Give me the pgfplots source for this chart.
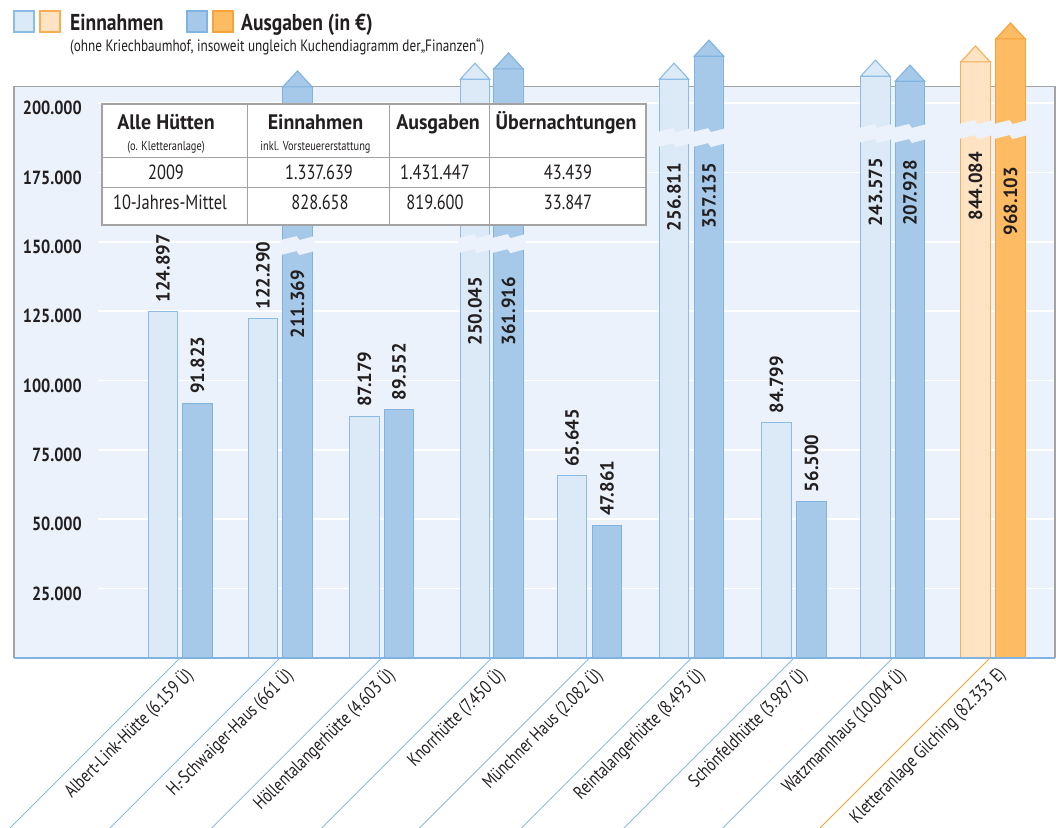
\documentclass[border=0pt]{standalone}
\usepackage{fontspec}
\setmainfont{PT Sans}[FakeStretch=0.8]
\newfontfamily\fA{PT Sans}[FakeStretch=0.98]
\newfontfamily\fB{PT Sans}[FakeStretch=0.95]
\newfontfamily\fC{PT Sans}[FakeStretch=0.85]
\usepackage{pgfplots}
\pgfplotsset{compat=1.18}
\usepackage{pgfplotstable}

\definecolor{bg}{HTML}{EBF2FB}
\definecolor{frame}{HTML}{A3A3A3}
\definecolor{einfill}{HTML}{DCE9F7}
\definecolor{einline}{HTML}{8CBCE5}
\definecolor{ausfill}{HTML}{A6C9EA}
\definecolor{ausline}{HTML}{80B3E0}
\definecolor{oeinfill}{HTML}{FFE3C2}
\definecolor{oeinline}{HTML}{F8AE55}
\definecolor{oausfill}{HTML}{FDBB63}
\definecolor{oausline}{HTML}{F5A33A}
\definecolor{txt}{HTML}{231F20}

% white-ish break band across a bar that is cut
\newcommand\brk[2]{\fill[bg] (axis cs:#1,#2) ++(-17pt,5pt) -- ++(16pt,4pt) -- ++(3pt,-4pt) -- ++(15pt,4pt) -- ++(0pt,-15pt) -- ++(-15pt,-4pt) -- ++(-3pt,4pt) -- ++(-16pt,-4pt) -- cycle;}

% bars: x = bar centre, h = drawn height (in 1000 EUR); cut bars end at the frame
\pgfplotstableread{
x h
163 124.897
263 122.290
364.5 87.179
475 208.6
572 65.645
674 208.6
776.5 84.799
875.5 209.7
}\einB
\pgfplotstableread{
x h
197.5 91.823
297.5 205.8
399 89.552
508.5 212.3
607 47.861
709 216.9
811.5 56.5
910 207.9
}\ausB
\pgfplotstableread{
x h
975.5 214.8
}\einO
\pgfplotstableread{
x h
1010.5 223.1
}\ausO
% labels above bars
\pgfplotstableread{
x y lab
163 124.897 124.897
197.5 91.823 91.823
263 122.290 122.290
364.5 87.179 87.179
399 89.552 89.552
572 65.645 65.645
607 47.861 47.861
776.5 84.799 84.799
811.5 56.5 56.500
}\labup
% labels inside the cut bars (y = upper end of text)
\pgfplotstableread{
x y lab
297.5 139.8 211.369
475 137.3 250.045
508.5 137.3 361.916
674 178.4 256.811
709 178.4 357.135
875.5 180.2 243.575
910 179.5 207.928
975.5 182.3 844.084
1010.5 176.9 968.103
}\labin

\newcommand\hb{\fontsize{21}{21}\selectfont\fB\bfseries}
\newcommand\hs{\fontsize{13}{13}\selectfont}
\newcommand\hr{\fontsize{20.5}{20.5}\selectfont}
\newcommand\vl{\fontsize{19}{19}\selectfont\fA\bfseries}

\begin{document}
\begin{tikzpicture}
\color{txt}
\begin{axis}[
  at={(14pt,169pt)}, anchor=south west,
  x=1pt, y=2.775pt,
  xmin=14, xmax=1055, ymin=0, ymax=205.8,
  clip=false,
  axis line style={draw=none},
  axis background/.style={fill=bg},
  major tick length=0pt,
  tick style={draw=none},
  ytick={25,50,75,100,125,150,175,200},
  yticklabels={25.000,50.000,75.000,100.000,125.000,150.000,175.000,200.000},
  yticklabel style={font=\fontsize{19}{19}\selectfont\fC\bfseries, text=txt, inner sep=0pt, xshift=68pt, yshift=-5pt, anchor=east},
  xtick={180,280,381.75,491.75,589.5,691.5,794,892.75,993},
  xticklabels={Albert-Link-Hütte (6.159 Ü),H.-Schwaiger-Haus (661 Ü),Höllentalangerhütte (4.603 Ü),Knorrhütte (7.450 Ü),Münchner Haus (2.082 Ü),Reintalangerhütte (8.493 Ü),Schönfeldhütte (3.987 Ü),Watzmannhaus (10.004 Ü),Kletteranlage Gilching (82.333 E)},
  xticklabel style={font=\fontsize{18.6}{18.6}\selectfont, text=txt, inner sep=0pt, xshift=10pt, yshift=-14pt, rotate=45, anchor=east},
]
\pgfplotsinvokeforeach{25,50,75,100,125,150,175,200}{
  \draw[white, line width=1.6pt] (axis cs:98,#1) -- (axis cs:1055,#1);
}
\draw[frame, line width=1.2pt] (axis cs:14,0) -- (axis cs:14,205.8) -- (axis cs:1055,205.8) -- (axis cs:1055,0);

\addplot[ybar, bar width=29.5, bar shift=0pt, fill=einfill, draw=einline, line width=1.1pt] table[x=x,y=h]{\einB};
\addplot[ybar, bar width=29.5, bar shift=0pt, fill=ausfill, draw=ausline, line width=1.1pt] table[x=x,y=h]{\ausB};
\addplot[ybar, bar width=29.5, bar shift=0pt, fill=oeinfill, draw=oeinline, line width=1.1pt] table[x=x,y=h]{\einO};
\addplot[ybar, bar width=29.5, bar shift=0pt, fill=oausfill, draw=oausline, line width=1.1pt] table[x=x,y=h]{\ausO};

% arrow heads on the cut bars
\addplot[only marks, mark=triangle*, mark size=17pt, mark options={fill=einfill, draw=einline, line width=1.1pt, yshift=5.3pt, yscale=0.626}] table {
x y
475 208.6
674 208.6
875.5 209.7
};
\addplot[only marks, mark=triangle*, mark size=17pt, mark options={fill=ausfill, draw=ausline, line width=1.1pt, yshift=5.3pt, yscale=0.626}] table {
x y
297.5 205.8
508.5 212.3
709 216.9
910 207.9
};
\addplot[only marks, mark=triangle*, mark size=17pt, mark options={fill=oeinfill, draw=oeinline, line width=1.1pt, yshift=5.3pt, yscale=0.626}] table {
x y
975.5 214.8
};
\addplot[only marks, mark=triangle*, mark size=17pt, mark options={fill=oausfill, draw=oausline, line width=1.1pt, yshift=5.3pt, yscale=0.626}] table {
x y
1010.5 223.1
};

% breaks
\brk{297.5}{148.8}
\brk{475}{149.5}\brk{508.5}{149.5}
\brk{674}{187.7}\brk{709}{187.7}
\brk{875.5}{189.2}\brk{910}{189.2}
\brk{975.5}{190.6}\brk{1010.5}{190.6}

\addplot[draw=none, mark=none, nodes near coords, point meta=explicit symbolic,
  nodes near coords style={font=\vl, text=txt, rotate=90, anchor=west, inner xsep=9pt, inner ysep=0pt}]
  table[x=x,y=y,meta=lab]{\labup};
\addplot[draw=none, mark=none, nodes near coords, point meta=explicit symbolic,
  nodes near coords style={font=\vl, text=txt, rotate=90, anchor=east, inner xsep=0pt, inner ysep=0pt}]
  table[x=x,y=y,meta=lab]{\labin};

\draw[ausline, line width=2pt] (axis cs:14,0) -- (axis cs:1055,0);
\pgfplotsinvokeforeach{180,280,381.75,491.75,589.5,691.5,794,892.75}{
  \draw[einline, line width=1pt] (axis cs:#1,0) -- ++(-200pt,-200pt);
}
\draw[oausline, line width=1pt] (axis cs:990,0) -- ++(-200pt,-200pt);
\end{axis}

% summary table
\fill[white] (102pt,602pt) rectangle (646pt,723pt);
\draw[frame, line width=1pt] (102pt,669pt) -- (646pt,669pt) (102pt,639pt) -- (646pt,639pt)
  (247pt,602pt) -- (247pt,723pt) (389pt,602pt) -- (389pt,723pt) (489pt,602pt) -- (489pt,723pt);
\draw[frame, line width=1.2pt] (102pt,602pt) rectangle (646pt,723pt);
\node[anchor=base, inner sep=0pt, font=\hb] at (166pt,697pt) {Alle Hütten};
\node[anchor=base, inner sep=0pt, font=\hs] at (166pt,676pt) {(o. Kletteranlage)};
\node[anchor=base, inner sep=0pt, font=\hb] at (315.5pt,697pt) {Einnahmen};
\node[anchor=base, inner sep=0pt, font=\hs] at (315.5pt,676pt) {inkl. Vorsteuererstattung};
\node[anchor=base, inner sep=0pt, font=\hb] at (438pt,697pt) {Ausgaben};
\node[anchor=base, inner sep=0pt, font=\hb] at (566pt,697pt) {Übernachtungen};
\node[anchor=base, inner sep=0pt, font=\hr] at (166pt,647pt) {2009};
\node[anchor=base, inner sep=0pt, font=\hr] at (319pt,647pt) {1.337.639};
\node[anchor=base, inner sep=0pt, font=\hr] at (435pt,647pt) {1.431.447};
\node[anchor=base, inner sep=0pt, font=\hr] at (568pt,647pt) {43.439};
\node[anchor=base, inner sep=0pt, font=\hr] at (170pt,617pt) {10-Jahres-Mittel};
\node[anchor=base, inner sep=0pt, font=\hr] at (320pt,617pt) {828.658};
\node[anchor=base, inner sep=0pt, font=\hr] at (435pt,617pt) {819.600};
\node[anchor=base, inner sep=0pt, font=\hr] at (568pt,617pt) {33.847};

% legend
\draw[einline, fill=einfill, line width=1.2pt] (14pt,795pt) rectangle (34pt,816pt);
\draw[oeinline, fill=oeinfill, line width=1.2pt] (40pt,795pt) rectangle (60pt,816pt);
\draw[ausline, fill=ausfill, line width=1.2pt] (187pt,795pt) rectangle (207pt,816pt);
\draw[oausline, fill=oausfill, line width=1.2pt] (213pt,795pt) rectangle (233pt,816pt);
\node[anchor=base west, inner sep=0pt, font=\fontsize{23}{23}\selectfont\fC\bfseries] at (70pt,796pt) {Einnahmen};
\node[anchor=base west, inner sep=0pt, font=\fontsize{23}{23}\selectfont\fC\bfseries] at (241pt,796pt) {Ausgaben (in €)};
\node[anchor=base west, inner sep=0pt, font=\fontsize{16.5}{16.5}\selectfont] at (70pt,775pt) {(ohne Kriechbaumhof, insoweit ungleich Kuchendiagramm der„Finanzen“)};

\pgfresetboundingbox
\path[use as bounding box] (0pt,0pt) rectangle (1056pt,827pt);
\end{tikzpicture}
\end{document}
